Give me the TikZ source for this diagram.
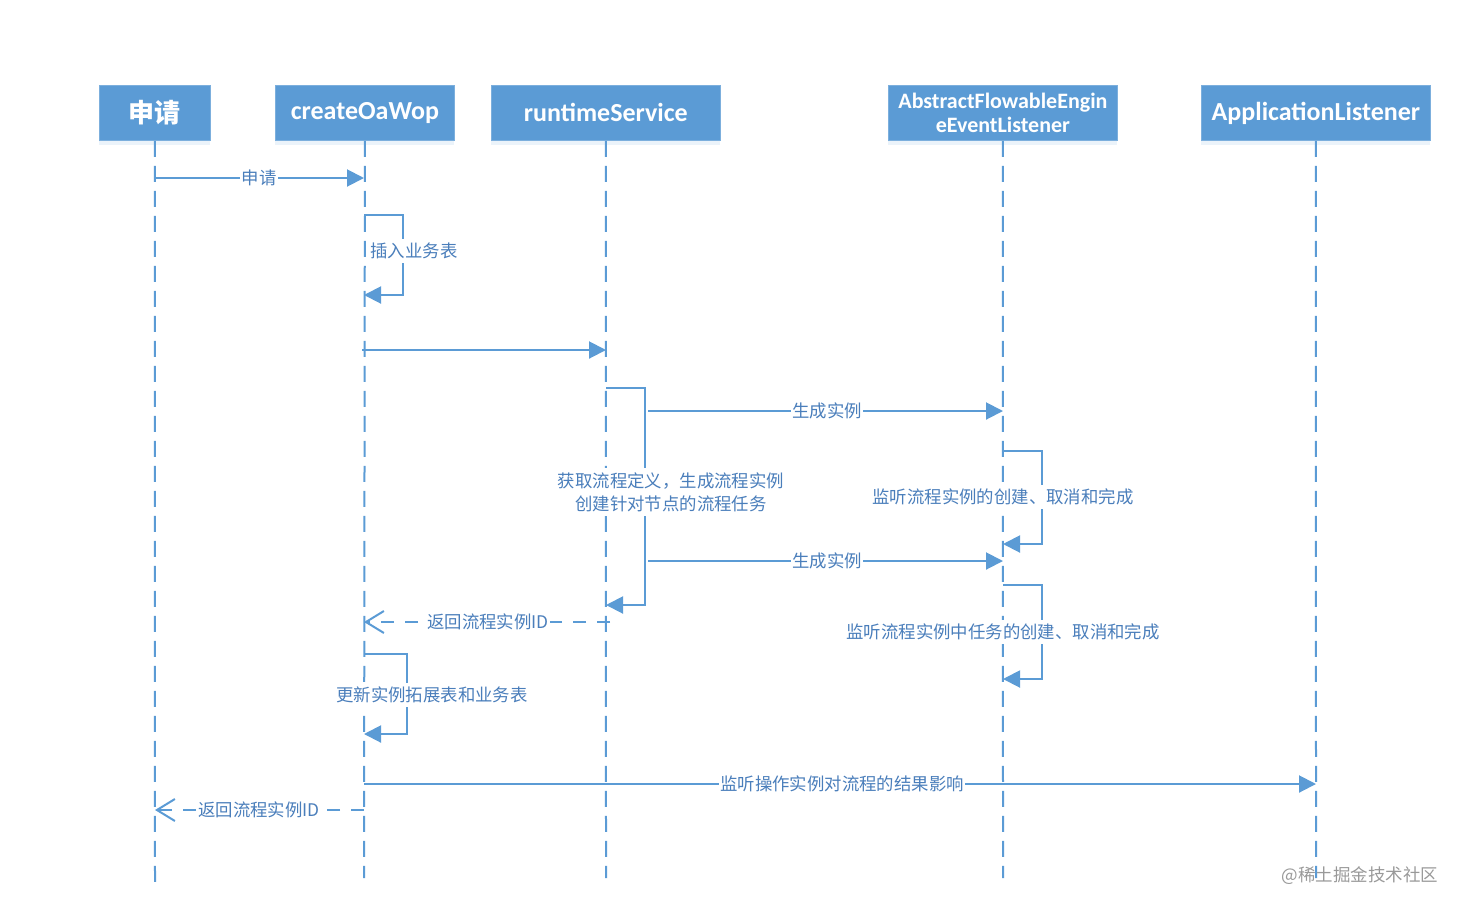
\documentclass[tikz,border=0pt]{standalone}
\usepackage{fontspec}
\setmainfont{Carlito}
\newfontfamily\cjk{Noto Sans CJK SC}
\usetikzlibrary{arrows.meta,calc,shadows}
\definecolor{lblue}{HTML}{5B9BD5}
\definecolor{tblue}{HTML}{4A7EBB}
\tikzset{
  actor/.style={fill=lblue, draw=lblue!80!white, line width=0.8pt, text=white, font=\bfseries\fontsize{26}{28}\selectfont, inner sep=0pt, anchor=north west,
    drop shadow={shadow xshift=0pt, shadow yshift=-5pt, opacity=0.12, fill=lblue}},
  life/.style={draw=lblue, line width=2pt, dash pattern=on 16pt off 9pt},
  msg/.style={draw=lblue, line width=2pt, -{Triangle[length=17pt,width=17pt]}},
  ret/.style={draw=lblue, line width=2pt, dash pattern=on 13pt off 11pt, -{Straight Barb[length=18pt,width=22pt,line width=2pt]}},
  self/.style={draw=lblue, line width=2pt, -{Triangle[length=17pt,width=17pt]}},
  lbl/.style={fill=white, text=tblue, font=\cjk\fontsize{17.4}{21}\selectfont, inner xsep=1.5pt, inner ysep=4pt},
}
\begin{document}
\begin{tikzpicture}[x=1pt,y=-1pt]
\useasboundingbox (0,0) rectangle (1464,911);
% actors
\node[actor, minimum width=111pt, minimum height=55pt] (A) at (99,85) {\cjk\bfseries 申请};
\node[actor, minimum width=179pt, minimum height=55pt] (B) at (275,85) {createOaWop};
\node[actor, minimum width=229pt, minimum height=55pt] (C) at (491,85) {runtimeService};
\node[actor, minimum width=229pt, minimum height=55pt, align=center, font=\bfseries\fontsize{22}{24}\selectfont] (D) at (888,85) {AbstractFlowableEngin\\eEventListener};
\node[actor, minimum width=229pt, minimum height=55pt] (E) at (1201,85) {ApplicationListener};
% lifeline ends
\coordinate (Ae) at (155,886);
\coordinate (Be) at (364,878);
\coordinate (Ce) at (606,878);
\coordinate (De) at (1003,878);
\coordinate (Ee) at (1316,878);
\draw[life] (A.south) -- (Ae);
\draw[life] (B.south) -- (Be);
\draw[life] (C.south) -- (Ce);
\draw[life] (D.south) -- (De);
\draw[life] (E.south) -- (Ee);
% message endpoints
\coordinate (m1a) at (155,178); \coordinate (m1b) at (364,178);
\coordinate (s1a) at (364,215); \coordinate (s1b) at (403,215); \coordinate (s1c) at (403,295); \coordinate (s1d) at (364,295);
\coordinate (m2a) at (362,350); \coordinate (m2b) at (606,350);
\coordinate (s2a) at (606,388); \coordinate (s2b) at (645,388); \coordinate (s2c) at (645,605); \coordinate (s2d) at (606,605);
\coordinate (m3a) at (648,411); \coordinate (m3b) at (1003,411);
\coordinate (s3a) at (1003,451); \coordinate (s3b) at (1042,451); \coordinate (s3c) at (1042,544); \coordinate (s3d) at (1003,544);
\coordinate (m4a) at (648,561); \coordinate (m4b) at (1003,561);
\coordinate (s4a) at (1003,585); \coordinate (s4b) at (1042,585); \coordinate (s4c) at (1042,679); \coordinate (s4d) at (1003,679);
\coordinate (r1a) at (610,622); \coordinate (r1b) at (364,622);
\coordinate (s5a) at (364,654); \coordinate (s5b) at (407,654); \coordinate (s5c) at (407,734); \coordinate (s5d) at (364,734);
\coordinate (m5a) at (364,784); \coordinate (m5b) at (1316,784);
\coordinate (r2a) at (364,810); \coordinate (r2b) at (155,810);
% messages
\draw[msg] (m1a) -- (m1b);
\node[lbl] (l1) at (259,178) {申请};
\draw[self] (s1a) -- (s1b) -- (s1c) -- (s1d);
\node[lbl] (l2) at (414,251) {插入业务表};
\draw[msg] (m2a) -- (m2b);
\draw[self] (s2a) -- (s2b) -- (s2c) -- (s2d);
\node[lbl, align=center, font=\cjk\fontsize{17.4}{23}\selectfont] (l3) at (671,492) {获取流程定义，生成流程实例\\创建针对节点的流程任务};
\draw[msg] (m3a) -- (m3b);
\node[lbl] (l4) at (827,411) {生成实例};
\draw[self] (s3a) -- (s3b) -- (s3c) -- (s3d);
\node[lbl] (l5) at (1003,497) {监听流程实例的创建、取消和完成};
\draw[msg] (m4a) -- (m4b);
\node[lbl] (l6) at (827,561) {生成实例};
\draw[self] (s4a) -- (s4b) -- (s4c) -- (s4d);
\node[lbl] (l7) at (1003,632) {监听流程实例中任务的创建、取消和完成};
\draw[ret] (r1a) -- (r1b);
\node[lbl] (l8) at (488,622) {返回流程实例ID};
\draw[self] (s5a) -- (s5b) -- (s5c) -- (s5d);
\node[lbl] (l9) at (432,695) {更新实例拓展表和业务表};
\draw[msg] (m5a) -- (m5b);
\node[lbl] (l10) at (842,784) {监听操作实例对流程的结果影响};
\draw[ret] (r2a) -- (r2b);
\node[lbl] (l11) at (259,810) {返回流程实例ID};
% watermark
\node[text=black!40, font=\cjk\fontsize{17.5}{20}\selectfont, inner sep=0pt] (wm) at (1360,876) {@稀土掘金技术社区};
\end{tikzpicture}
\end{document}
